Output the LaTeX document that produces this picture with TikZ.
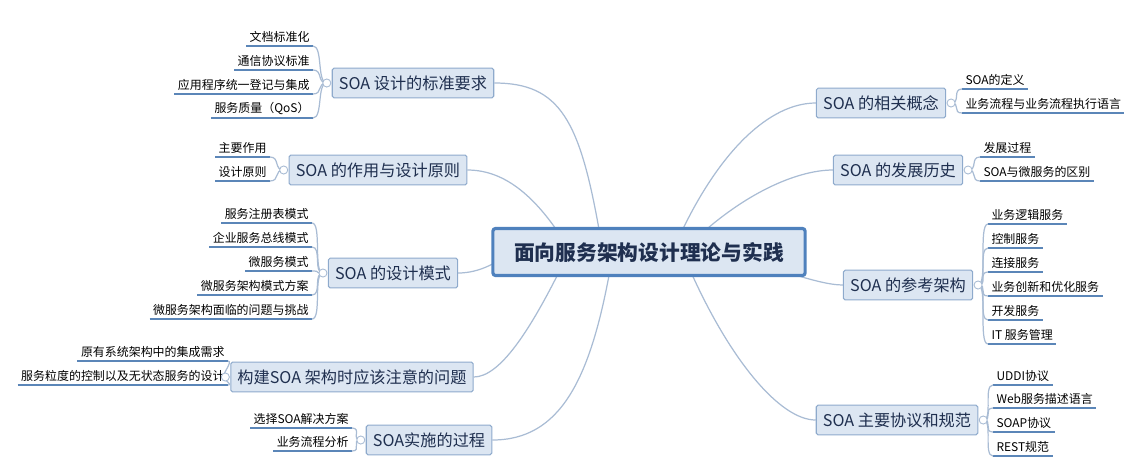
\documentclass[tikz,border=0pt]{standalone}
\usepackage{fontspec}
\setmainfont{Noto Sans CJK SC}
\usetikzlibrary{positioning}
\pgfdeclarelayer{bg}
\pgfsetlayers{bg,main}
\definecolor{boxfill}{HTML}{DCE6F2}
\definecolor{boxline}{HTML}{8EAACC}
\definecolor{rootline}{HTML}{4F81BD}
\definecolor{txt}{HTML}{1F2F4F}
\definecolor{linkcol}{HTML}{A9BCD4}
\definecolor{ulcol}{HTML}{5B86B8}
\tikzset{
  root/.style={draw=rootline,line width=0.9pt,fill=boxfill,rounded corners=0.8pt,
    minimum width=88.8pt,minimum height=13.4pt,text=txt,font=\fontsize{5.9}{7}\selectfont\bfseries},
  branch/.style={draw=boxline,line width=0.3pt,fill=boxfill,rounded corners=0.5pt,
    minimum height=8.5pt,inner xsep=1.9pt,inner ysep=1pt,text=txt,font=\fontsize{4.6}{6}\selectfont},
  leaf/.style={inner sep=0.8pt,text=black,font=\fontsize{3.4}{4}\selectfont},
  link/.style={draw=linkcol,line width=0.35pt},
  uline/.style={draw=ulcol,line width=0.35pt},
  hub/.style={circle,draw=linkcol,fill=white,line width=0.25pt,inner sep=0pt,minimum size=2.3pt}
}
\begin{document}
\begin{tikzpicture}[x=0.01cm,y=-0.01cm]
\useasboundingbox (0,0) rectangle (1140,469);
\node[root] (r) at (649,252) {面向服务架构设计理论与实践};
% left branches
\node[branch] (b1) at (413,83) {SOA 设计的标准要求};
\node[branch] (b2) at (378,170) {SOA 的作用与设计原则};
\node[branch] (b3) at (393,273) {SOA 的设计模式};
\node[branch] (b4) at (352,377) {构建SOA 架构时应该注意的问题};
\node[branch] (b5) at (429,440) {SOA实施的过程};
% right branches
\node[branch] (b6) at (881,103) {SOA 的相关概念};
\node[branch] (b7) at (898,170) {SOA 的发展历史};
\node[branch] (b8) at (908,285) {SOA 的参考架构};
\node[branch] (b9) at (897,420) {SOA 主要协议和规范};
\begin{pgfonlayer}{bg}
  \draw[link] (600,235) .. controls (580,120) and (560,83) .. (b1.east);
  \draw[link] (560,235) .. controls (530,190) and (500,170) .. (b2.east);
  \draw[link] (520,245) .. controls (500,262) and (480,273) .. (b3.east);
  \draw[link] (560,270) .. controls (530,330) and (500,377) .. (b4.east);
  \draw[link] (610,270) .. controls (590,380) and (560,440) .. (b5.east);
  \draw[link] (680,235) .. controls (720,150) and (770,103) .. (b6.west);
  \draw[link] (700,235) .. controls (750,190) and (800,170) .. (b7.west);
  \draw[link] (780,270) .. controls (810,280) and (830,285) .. (b8.west);
  \draw[link] (690,270) .. controls (730,360) and (780,420) .. (b9.west);
\end{pgfonlayer}
% left leaves
\foreach \t/\y [count=\i] in {文档标准化/46,通信协议标准/70,应用程序统一登记与集成/94,服务质量（QoS）/118}{
  \node[leaf,anchor=south east] (l1\i) at (313,\y) {\t};
  \draw[uline] (l1\i.south west) -- (l1\i.south east);
  \draw[link] ([xshift=-1.4pt]b1.west) .. controls +(-10,0) and +(10,0) .. (l1\i.south east);
}
\node[hub] at ([xshift=-1.4pt]b1.west) {};
\foreach \t/\y [count=\i] in {主要作用/157,设计原则/181}{
  \node[leaf,anchor=south east] (l2\i) at (270,\y) {\t};
  \draw[uline] (l2\i.south west) -- (l2\i.south east);
  \draw[link] ([xshift=-1.4pt]b2.west) .. controls +(-10,0) and +(10,0) .. (l2\i.south east);
}
\node[hub] at ([xshift=-1.4pt]b2.west) {};
\foreach \t/\y [count=\i] in {服务注册表模式/223,企业服务总线模式/247,微服务模式/271,微服务架构模式方案/295,微服务架构面临的问题与挑战/319}{
  \node[leaf,anchor=south east] (l3\i) at (312,\y) {\t};
  \draw[uline] (l3\i.south west) -- (l3\i.south east);
  \draw[link] ([xshift=-1.4pt]b3.west) .. controls +(-10,0) and +(10,0) .. (l3\i.south east);
}
\node[hub] at ([xshift=-1.4pt]b3.west) {};
\foreach \t/\y [count=\i] in {原有系统架构中的集成需求/361,服务粒度的控制以及无状态服务的设计/385}{
  \node[leaf,anchor=south east] (l4\i) at (228,\y) {\t};
  \draw[uline] (l4\i.south west) -- (l4\i.south east);
  \draw[link] ([xshift=-1.4pt]b4.west) .. controls +(-6,0) and +(6,0) .. (l4\i.south east);
}
\node[hub] at ([xshift=-1.4pt]b4.west) {};
\foreach \t/\y [count=\i] in {选择SOA解决方案/428,业务流程分析/451}{
  \node[leaf,anchor=south east] (l5\i) at (352,\y) {\t};
  \draw[uline] (l5\i.south west) -- (l5\i.south east);
  \draw[link] ([xshift=-1.4pt]b5.west) .. controls +(-10,0) and +(10,0) .. (l5\i.south east);
}
\node[hub] at ([xshift=-1.4pt]b5.west) {};
% right leaves
\foreach \t/\y [count=\i] in {SOA的定义/89,业务流程与业务流程执行语言/113}{
  \node[leaf,anchor=south west] (l6\i) at (962,\y) {\t};
  \draw[uline] (l6\i.south west) -- (l6\i.south east);
  \draw[link] ([xshift=1.4pt]b6.east) .. controls +(10,0) and +(-10,0) .. (l6\i.south west);
}
\node[hub] at ([xshift=1.4pt]b6.east) {};
\foreach \t/\y [count=\i] in {发展过程/157,SOA与微服务的区别/181}{
  \node[leaf,anchor=south west] (l7\i) at (980,\y) {\t};
  \draw[uline] (l7\i.south west) -- (l7\i.south east);
  \draw[link] ([xshift=1.4pt]b7.east) .. controls +(10,0) and +(-10,0) .. (l7\i.south west);
}
\node[hub] at ([xshift=1.4pt]b7.east) {};
\foreach \t/\y [count=\i] in {业务逻辑服务/224,控制服务/248,连接服务/272,业务创新和优化服务/296,开发服务/320,IT 服务管理/344}{
  \node[leaf,anchor=south west] (l8\i) at (988,\y) {\t};
  \draw[uline] (l8\i.south west) -- (l8\i.south east);
  \draw[link] ([xshift=1.4pt]b8.east) .. controls +(10,0) and +(-10,0) .. (l8\i.south west);
}
\node[hub] at ([xshift=1.4pt]b8.east) {};
\foreach \t/\y [count=\i] in {UDDI协议/385,Web服务描述语言/408,SOAP协议/432,REST规范/456}{
  \node[leaf,anchor=south west] (l9\i) at (993,\y) {\t};
  \draw[uline] (l9\i.south west) -- (l9\i.south east);
  \draw[link] ([xshift=1.4pt]b9.east) .. controls +(10,0) and +(-10,0) .. (l9\i.south west);
}
\node[hub] at ([xshift=1.4pt]b9.east) {};
\end{tikzpicture}
\end{document}
